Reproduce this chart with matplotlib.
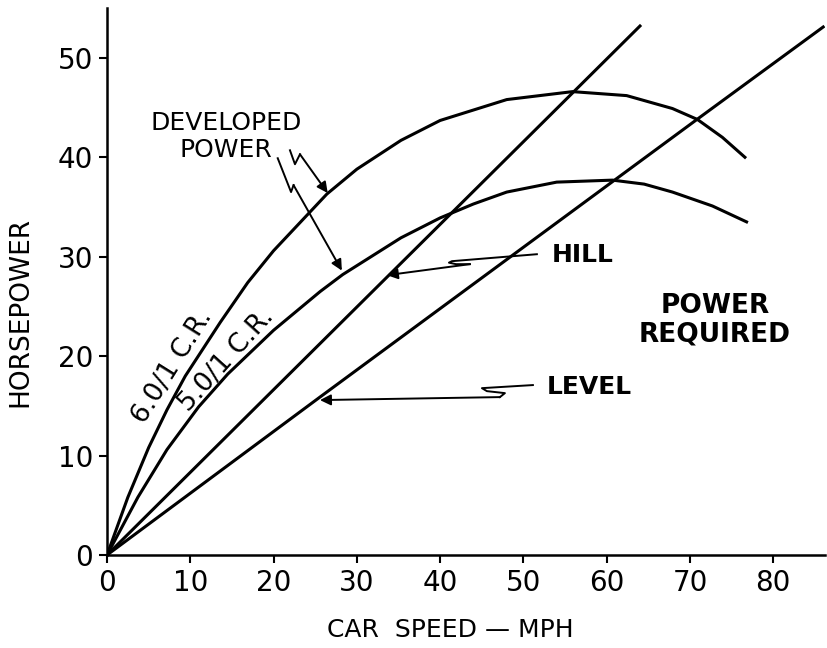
import numpy as np
import matplotlib.pyplot as plt

# values
speed_60 = [0, 2.5, 5.0, 7.2, 9.4, 13.6, 16.9, 20.0, 26.4, 30.0, 35.3, 40.0, 48.0, 55.9, 62.4, 67.9, 70.9, 73.9, 76.6]
hp_60 = [0, 5.8, 10.8, 14.6, 18.0, 23.4, 27.4, 30.6, 36.3, 38.8, 41.7, 43.7, 45.8, 46.6, 46.2, 44.9, 43.8, 42.0, 40.0]

speed_50 = [0, 3.7, 7.2, 11.0, 14.5, 20.0, 25.6, 28.3, 35.3, 40.0, 44.0, 48.0, 54.0, 60.7, 64.5, 67.9, 72.7, 76.8]
hp_50 = [0, 5.8, 10.6, 14.9, 18.2, 22.6, 26.5, 28.2, 31.9, 33.9, 35.3, 36.5, 37.5, 37.7, 37.3, 36.5, 35.1, 33.5]

speed_hill = [0, 64.0]
hp_hill = [0, 53.2]

speed_level = [0, 25.6, 71.0, 86.0]
hp_level = [0, 15.9, 43.9, 53.1]

xticks = [0, 10, 20, 30, 40, 50, 60, 70, 80]
yticks = [0, 10, 20, 30, 40, 50]

plt.rcParams['font.family'] = 'DejaVu Sans'

fig = plt.figure(figsize=(8.27, 6.48), dpi=100)
ax = fig.add_axes([0.1294, 0.1435, 0.868, 0.844])

lw = 2.2
ax.plot(speed_60, hp_60, color='k', lw=lw, solid_joinstyle='round')
ax.plot(speed_50, hp_50, color='k', lw=lw, solid_joinstyle='round')
ax.plot(speed_hill, hp_hill, color='k', lw=lw)
ax.plot(speed_level, hp_level, color='k', lw=lw)

ax.set_xlim(0, 86.2)
ax.set_ylim(0, 55)
ax.set_xticks(xticks)
ax.set_yticks(yticks)
ax.tick_params(labelsize=20, length=6, width=1.5, direction='out', pad=4)
for s in ['top', 'right']:
    ax.spines[s].set_visible(False)
for s in ['left', 'bottom']:
    ax.spines[s].set_linewidth(1.8)

# axis titles
ax.text(0.478, -0.137, 'CAR  SPEED — MPH', fontsize=18, ha='center', va='center',
        transform=ax.transAxes)
ax.text(-0.121, 0.444, 'HORSEPOWER', fontsize=19, rotation=90, ha='center', va='center',
        transform=ax.transAxes)

# labels on the curves
ax.text(7.9, 18.9, '6.0/1 C.R.', fontsize=19, rotation=58,
        rotation_mode='anchor', ha='center', va='center')
ax.text(14.3, 19.6, '5.0/1 C.R.', fontsize=19, rotation=48,
        rotation_mode='anchor', ha='center', va='center')

ax.text(14.3, 42.1, 'DEVELOPED\nPOWER', fontsize=18, ha='center', va='center',
        multialignment='center', linespacing=1.15)
ax.text(53.4, 30.15, 'HILL', fontsize=18, fontweight='bold', ha='left', va='center')
ax.text(52.8, 16.9, 'LEVEL', fontsize=18, fontweight='bold', ha='left', va='center')
ax.text(73.0, 23.6, 'POWER\nREQUIRED', fontsize=19, fontweight='bold',
        ha='center', va='center', multialignment='center', linespacing=1.15)

arr = dict(arrowstyle='-|>', color='k', lw=1.4, mutation_scale=16, shrinkA=0, shrinkB=0)

# zigzag leaders: (bends..., tip)
leaders = [
    ([21.97, 22.57, 23.17], [40.7, 39.3, 40.3], (26.5, 36.4)),
    ([20.5, 22.1, 22.4], [39.9, 36.5, 37.2], (28.2, 28.6)),
    ([51.62, 41.42, 41.06, 41.90, 43.58], [30.25, 29.55, 29.40, 29.25, 29.25], (33.61, 28.14)),
    ([51.14, 45.02, 45.62, 47.78, 47.18], [17.09, 16.78, 16.48, 16.28, 15.88], (25.57, 15.58)),
]
for lx, ly, tip in leaders:
    ax.plot(lx, ly, color='k', lw=1.4, solid_joinstyle='round')
    ax.annotate('', xy=tip, xytext=(lx[-1], ly[-1]), arrowprops=arr)

fig.savefig('out.png', dpi=100)
